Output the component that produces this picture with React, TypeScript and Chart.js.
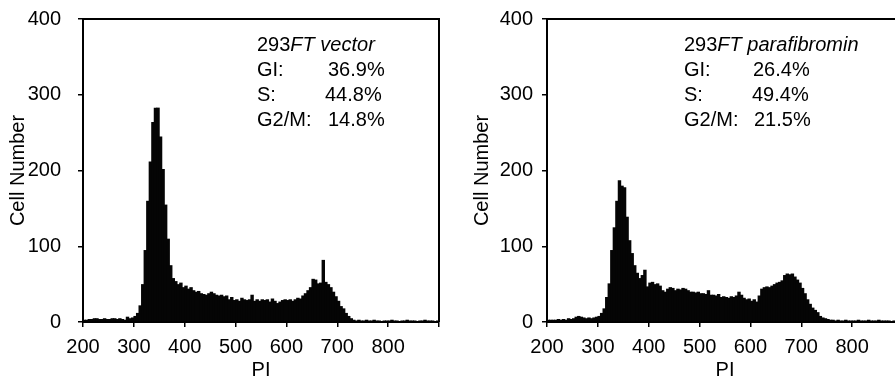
import React, { useEffect, useRef } from 'react';
import { Chart, registerables } from 'chart.js';

Chart.register(...registerables);

// Histogram bins: 5-unit wide channels from PI = 200 to 900
const BIN_START = 200;
const BIN_WIDTH = 5;

const xTickValues = [200, 300, 400, 500, 600, 700, 800, 900];
const xTickLabels = ['200', '300', '400', '500', '600', '700', '800', ''];
const yTickValues = [0, 100, 200, 300, 400];

// Cell counts per bin – 293FT vector
const vectorCounts = [
  3, 3, 4, 4, 5, 5, 4, 4, 5, 4, 4, 5, 5, 4, 5, 4, 3, 7, 5, 6,
  8, 12, 22, 50, 95, 160, 212, 264, 283, 283, 245, 202, 155, 110, 75, 58, 54, 50, 52, 46,
  48, 44, 46, 42, 40, 41, 38, 37, 36, 38, 40, 38, 36, 35, 36, 34, 35, 30, 33, 29,
  30, 28, 32, 30, 29, 30, 36, 28, 30, 28, 30, 29, 30, 27, 31, 28, 25, 27, 29, 30,
  29, 30, 28, 30, 32, 31, 35, 38, 42, 46, 57, 56, 51, 52, 82, 53, 50, 46, 40, 34,
  28, 21, 18, 12, 8, 5, 3, 2, 3, 2, 2, 3, 2, 2, 3, 2, 2, 1, 2, 2,
  2, 3, 2, 2, 1, 2, 2, 3, 2, 2, 2, 1, 2, 2, 3, 2, 2, 2, 1, 2,
];

// Cell counts per bin – 293FT parafibromin
const parafibrominCounts = [
  3, 3, 3, 3, 4, 3, 4, 3, 5, 4, 5, 7, 8, 7, 6, 5, 6, 5, 6, 7,
  8, 12, 18, 33, 51, 95, 125, 160, 187, 180, 178, 139, 108, 91, 75, 65, 58, 62, 69, 47,
  52, 53, 50, 51, 48, 42, 40, 44, 46, 45, 42, 44, 43, 45, 44, 42, 40, 40, 39, 40,
  38, 38, 37, 42, 36, 36, 35, 37, 33, 34, 33, 32, 34, 33, 35, 40, 36, 32, 30, 31,
  28, 30, 27, 35, 44, 46, 47, 46, 48, 50, 52, 53, 55, 62, 64, 63, 64, 60, 56, 52,
  45, 38, 30, 24, 19, 16, 13, 8, 6, 5, 4, 3, 3, 2, 3, 2, 2, 3, 2, 2,
  2, 2, 3, 2, 2, 2, 3, 2, 2, 2, 3, 2, 2, 2, 2, 1, 2, 2, 2, 2,
];

const phaseLabels = ['GI:', 'S:', 'G2/M:'];
const vectorPercents = ['36.9%', '44.8%', '14.8%'];
const parafibrominPercents = ['26.4%', '49.4%', '21.5%'];

const FONT = '"Liberation Sans", Arial, Helvetica, sans-serif';

const overlayPlugin = {
  id: 'overlay',
  afterDatasetsDraw(chart: any, _args: any, opts: any) {
    const { ctx, chartArea: a } = chart;
    ctx.save();
    // frame (top + right)
    ctx.strokeStyle = '#000';
    ctx.lineWidth = 2;
    ctx.beginPath();
    ctx.moveTo(a.left, a.top);
    ctx.lineTo(a.right, a.top);
    ctx.lineTo(a.right, a.bottom);
    ctx.stroke();
    // annotation text
    ctx.fillStyle = '#000';
    ctx.textBaseline = 'middle';
    ctx.textAlign = 'left';
    const x0 = a.left + opts.textDx;
    const y0 = a.top + opts.textDy;
    ctx.font = `20px ${FONT}`;
    ctx.fillText(opts.prefix, x0, y0);
    const w = ctx.measureText(opts.prefix).width;
    ctx.font = `italic 20px ${FONT}`;
    ctx.fillText(opts.italic, x0 + w, y0);
    ctx.font = `20px ${FONT}`;
    opts.labels.forEach((lab: string, i: number) => {
      const y = y0 + opts.lineGap * (i + 1);
      ctx.fillText(lab, x0, y);
      ctx.fillText(opts.values[i], a.left + opts.valueDx[i], y);
    });
    ctx.restore();
  },
};

type HistProps = {
  counts: number[];
  left: number;
  yPad: number;
  prefix: string;
  italic: string;
  values: string[];
  textDx: number;
  valueDx: number[];
};

function Histogram(p: HistProps) {
  const ref = useRef<HTMLCanvasElement>(null);
  useEffect(() => {
    const data = p.counts.map((c, i) => ({ x: BIN_START + BIN_WIDTH * (i + 0.5), y: c }));
    const chart = new Chart(ref.current as HTMLCanvasElement, {
      type: 'bar',
      data: {
        datasets: [
          {
            data: data as any,
            backgroundColor: '#050505',
            borderWidth: 0,
            barPercentage: 1.35,
            categoryPercentage: 1,
            grouped: false,
          },
        ],
      },
      plugins: [overlayPlugin],
      options: {
        animation: false,
        responsive: false,
        devicePixelRatio: 1,
        events: [],
        layout: { padding: { top: 19, right: 6, left: 0, bottom: 0 } },
        plugins: {
          legend: { display: false },
          tooltip: { enabled: false },
          overlay: {
            prefix: p.prefix,
            italic: p.italic,
            labels: phaseLabels,
            values: p.values,
            textDx: p.textDx,
            textDy: 26,
            lineGap: 25,
            valueDx: p.valueDx,
          },
        } as any,
        scales: {
          x: {
            type: 'linear',
            min: 200,
            max: 900,
            offset: false,
            afterFit: (s: any) => {
              s.height = 54;
              s.paddingLeft = 0;
              s.paddingRight = 0;
            },
            afterBuildTicks: (s: any) => { s.ticks = xTickValues.map((v) => ({ value: v })); },
            ticks: {
              color: '#000',
              font: { size: 20, family: FONT },
              padding: 8,
              maxRotation: 0,
              autoSkip: false,
              callback: (v: any) => xTickLabels[xTickValues.indexOf(Number(v))] ?? '',
            },
            grid: { drawOnChartArea: false, drawTicks: true, tickLength: 5, color: '#000', lineWidth: 1.5, offset: false },
            border: { display: true, color: '#000', width: 2 },
            title: {
              display: true,
              text: 'PI',
              color: '#000',
              font: { size: 20, family: FONT, lineHeight: 0.6 },
              padding: { top: 0, bottom: 0 },
            },
          },
          y: {
            type: 'linear',
            min: 0,
            max: 400,
            afterFit: (s: any) => {
              s.width = 83;
              s.paddingTop = 0;
              s.paddingBottom = 0;
            },
            afterBuildTicks: (s: any) => { s.ticks = yTickValues.map((v) => ({ value: v })); },
            ticks: {
              color: '#000',
              font: { size: 20, family: FONT },
              padding: p.yPad,
            },
            grid: { drawOnChartArea: false, drawTicks: true, tickLength: 5, color: '#000', lineWidth: 1.5 },
            border: { display: true, color: '#000', width: 2 },
            title: {
              display: true,
              text: 'Cell Number',
              color: '#000',
              font: { size: 20, family: FONT },
              padding: { top: 6, bottom: 0 },
            },
          },
        },
      } as any,
    });
    return () => chart.destroy();
  }, []);
  return (
    <canvas
      ref={ref}
      width={445}
      height={376}
      style={{ position: 'absolute', left: p.left, top: 0, width: 445, height: 376 }}
    />
  );
}

export default function App() {
  return (
    <div
      style={{
        position: 'absolute',
        left: 0,
        top: 0,
        width: 895,
        height: 376,
        overflow: 'hidden',
        background: '#fff',
      }}
    >
      <Histogram
        counts={vectorCounts}
        left={0}
        yPad={17}
        prefix="293"
        italic="FT vector"
        values={vectorPercents}
        textDx={174}
        valueDx={[245, 242, 245]}
      />
      <Histogram
        counts={parafibrominCounts}
        left={464}
        yPad={9}
        prefix="293"
        italic="FT parafibromin"
        values={parafibrominPercents}
        textDx={137}
        valueDx={[206, 205, 207]}
      />
    </div>
  );
}
